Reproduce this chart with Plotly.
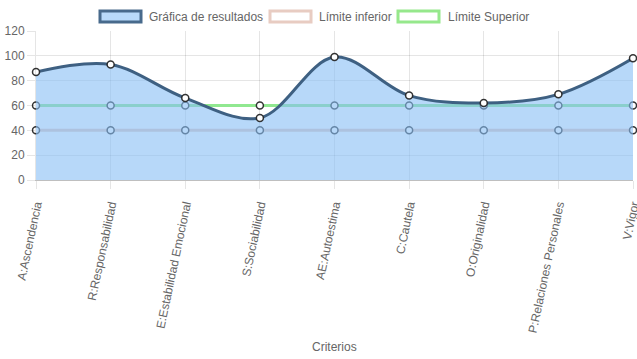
import plotly.graph_objects as go

categories = ["A:Ascendencia", "R:Responsabilidad", "E:Estabilidad Emocional", "S:Sociabilidad",
              "AE:Autoestima", "C:Cautela", "O:Originalidad", "P:Relaciones Personales", "V:Vigor"]
resultados = [87, 93, 66, 50, 99, 68, 62, 69, 98]
limite_inferior = [40, 40, 40, 40, 40, 40, 40, 40, 40]
limite_superior = [60, 60, 60, 60, 60, 60, 60, 60, 60]
y_ticks = [0, 20, 40, 60, 80, 100, 120]
legend_labels = ["Gráfica de resultados", "Límite inferior", "Límite Superior"]

W, H = 637, 359
L, R, T, B = 36, 4, 31, 179
pw, ph = W - L - R, H - T - B

def px(x):
    return (x - L) / pw

def py(y):
    return (H - B - y) / ph

FONT = "Liberation Sans"
TXT = "#666666"
GRID = "rgba(0,0,0,0.1)"

fig = go.Figure()
marker_style = dict(size=7, color="white", line=dict(color="rgba(30,30,30,0.9)", width=1.5))
fig.add_trace(go.Scatter(x=categories, y=limite_inferior, mode="lines+markers",
                         line=dict(color="rgb(230,200,190)", width=3), marker=marker_style,
                         cliponaxis=False, showlegend=False, hoverinfo="skip"))
fig.add_trace(go.Scatter(x=categories, y=limite_superior, mode="lines+markers",
                         line=dict(color="rgb(144,232,144)", width=3), marker=marker_style,
                         cliponaxis=False, showlegend=False, hoverinfo="skip"))
fig.add_trace(go.Scatter(x=categories, y=resultados, mode="lines+markers",
                         line=dict(color="rgb(62,96,130)", width=3, shape="spline", smoothing=1),
                         fill="tozeroy", fillcolor="rgba(135,190,245,0.6)",
                         marker=marker_style, cliponaxis=False, showlegend=False, hoverinfo="skip"))

# legend drawn as boxes + text
boxes = [(100, 141, "rgb(185,218,250)", "rgb(72,106,140)", 147),
         (270, 311, "white", "rgb(232,204,194)", 317),
         (398, 439, "white", "rgb(150,232,140)", 446)]
shapes = []
annotations = []
for (x0, x1, fc, lc, tx), lab in zip(boxes, legend_labels):
    shapes.append(dict(type="rect", xref="paper", yref="paper",
                       x0=px(x0), x1=px(x1), y0=py(22), y1=py(11),
                       fillcolor=fc, line=dict(color=lc, width=3), layer="above"))
    annotations.append(dict(xref="paper", yref="paper", x=px(tx), y=py(16.5),
                            xanchor="left", yanchor="middle", text=lab, showarrow=False,
                            font=dict(family=FONT, size=12, color=TXT)))
annotations.append(dict(xref="paper", yref="paper", x=px(334), y=py(347),
                        xanchor="center", yanchor="middle", text="Criterios", showarrow=False,
                        font=dict(family=FONT, size=12, color=TXT)))

fig.update_layout(
    width=W, height=H, margin=dict(l=L, r=R, t=T, b=B, autoexpand=False),
    paper_bgcolor="white", plot_bgcolor="white",
    font=dict(family=FONT, size=12, color=TXT),
    shapes=shapes, annotations=annotations, showlegend=False,
    xaxis=dict(type="category", range=[0, len(categories) - 1], showgrid=True, gridcolor=GRID,
               gridwidth=1, ticks="outside", ticklen=8, tickcolor=GRID, tickangle=-78,
               ticklabelstandoff=4,
               showline=True, linecolor="rgba(0,0,0,0.25)", linewidth=1, automargin=False,
               tickfont=dict(family=FONT, size=12, color=TXT), zeroline=False),
    yaxis=dict(range=[0, 120], tickvals=y_ticks, showgrid=True, gridcolor=GRID, gridwidth=1,
               ticks="outside", ticklen=8, tickcolor=GRID, showline=True, automargin=False,
               linecolor="rgba(0,0,0,0.1)", zeroline=False,
               tickfont=dict(family=FONT, size=12, color=TXT)),
)
fig.write_html("out.html", config={"displayModeBar": False},
               post_script="document.body.style.margin='0px';document.body.style.overflow='hidden';")
